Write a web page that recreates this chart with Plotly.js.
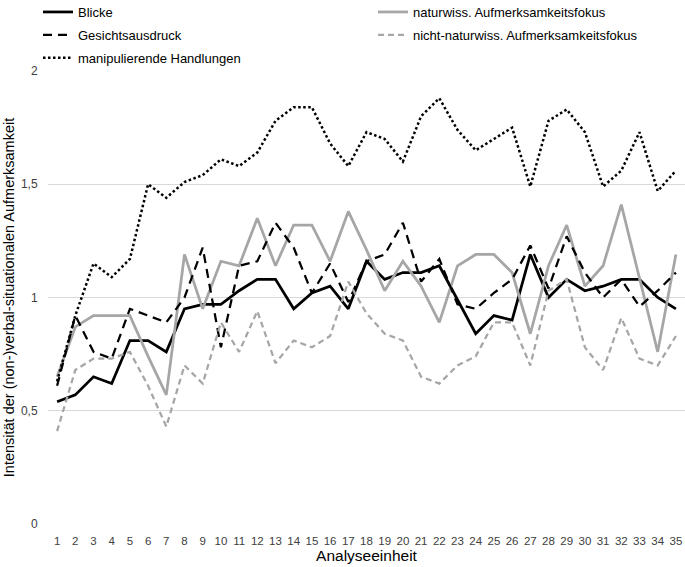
<!DOCTYPE html>
<html>
<head>
<meta charset="utf-8">
<script src="https://cdn.plot.ly/plotly-3.0.1.min.js"></script>
<style>html,body{margin:0;padding:0;background:#fff;}#chart{width:685px;height:567px;}</style>
</head>
<body>
<div id="chart"></div>
<script>
const units = ["1","2","3","4","5","6","7","8","9","10","11","12","13","14","15","16","17","18","19","20","21","22","23","24","25","26","27","28","29","30","31","32","33","34","35"];
const blicke = [0.54,0.57,0.65,0.62,0.81,0.81,0.76,0.95,0.97,0.97,1.03,1.08,1.08,0.95,1.02,1.05,0.95,1.16,1.08,1.11,1.11,1.14,0.99,0.84,0.92,0.90,1.19,1.00,1.08,1.03,1.05,1.08,1.08,1.00,0.95];
const naturwiss = [0.65,0.87,0.92,0.92,0.92,0.74,0.57,1.19,0.95,1.16,1.14,1.35,1.14,1.32,1.32,1.16,1.38,1.21,1.03,1.16,1.05,0.89,1.14,1.19,1.19,1.11,0.84,1.14,1.32,1.05,1.14,1.41,1.08,0.76,1.19];
const gesicht = [0.61,0.92,0.76,0.73,0.95,0.92,0.89,1.00,1.22,0.78,1.14,1.16,1.33,1.22,1.02,1.15,0.98,1.16,1.19,1.33,1.07,1.17,0.97,0.95,1.02,1.08,1.23,1.04,1.27,1.11,1.00,1.08,0.96,1.03,1.11];
const nichtNaturwiss = [0.41,0.68,0.73,0.73,0.76,0.61,0.43,0.70,0.62,0.89,0.76,0.94,0.71,0.81,0.78,0.83,1.07,0.93,0.84,0.81,0.65,0.62,0.70,0.74,0.89,0.89,0.70,1.03,1.08,0.78,0.68,0.91,0.73,0.70,0.83];
const manipulierend = [0.63,0.92,1.15,1.09,1.17,1.50,1.44,1.51,1.54,1.61,1.58,1.64,1.78,1.84,1.84,1.68,1.58,1.73,1.70,1.60,1.80,1.88,1.74,1.65,1.70,1.75,1.49,1.78,1.83,1.73,1.49,1.56,1.73,1.47,1.56];
const seriesNames = ["Blicke","naturwiss. Aufmerksamkeitsfokus","Gesichtsausdruck","nicht-naturwiss. Aufmerksamkeitsfokus","manipulierende Handlungen"];
const yTickVals = [0,0.5,1,1.5,2];
const yTickText = ["0","0,5","1","1,5","2"];

const traces = [
  {x: units, y: blicke, name: seriesNames[0], legend:'legend', legendgroup:'g1', type:'scatter', mode:'lines', line:{color:'#000000', width:2.75}},
  {x: units, y: naturwiss, name: seriesNames[1], legend:'legend2', legendgroup:'g2', type:'scatter', mode:'lines', line:{color:'#a6a6a6', width:2.75}},
  {x: units, y: gesicht, name: seriesNames[2], legend:'legend', legendgroup:'g3', type:'scatter', mode:'lines', line:{color:'#000000', width:2.25, dash:'9px,6px'}},
  {x: units, y: nichtNaturwiss, name: seriesNames[3], legend:'legend2', legendgroup:'g4', type:'scatter', mode:'lines', line:{color:'#a6a6a6', width:2.25, dash:'6px,4px'}},
  {x: units, y: manipulierend, name: seriesNames[4], legend:'legend', legendgroup:'g5', type:'scatter', mode:'lines', line:{color:'#000000', width:2.5, dash:'2.5px,2.5px'}}
];

const legendBase = {
  orientation:'v', xref:'paper', yref:'paper',
  y: 1 + 74/453, xanchor:'left', yanchor:'top',
  font:{size:13, color:'#000000'}, bgcolor:'rgba(0,0,0,0)',
  traceorder:'grouped', tracegroupgap:3
};

const layout = {
  width: 685, height: 567,
  margin: {l:48, r:0, t:71, b:43, autoexpand:false},
  paper_bgcolor:'#ffffff', plot_bgcolor:'#ffffff',
  font: {family:'"Liberation Sans", Arial, sans-serif', color:'#000000', size:13},
  showlegend: true,
  legend: Object.assign({}, legendBase, {x: (38-48)/637}),
  legend2: Object.assign({}, legendBase, {x: (373-48)/637}),
  xaxis: {
    type:'category', range:[-0.5, 34.5], showgrid:false, zeroline:false, showline:false,
    ticks:'outside', ticklen:6, tickcolor:'rgba(0,0,0,0)', tickfont:{size:11.5, color:'#404040'},
    title:{text:'Analyseeinheit', font:{size:15.5, color:'#000000'}, standoff:4},
    automargin:false, fixedrange:true
  },
  yaxis: {
    range:[0,2], tickvals: yTickVals, ticktext: yTickText,
    showgrid:true, gridcolor:'#d9d9d9', gridwidth:1, zeroline:false, showline:false,
    ticks:'outside', ticklen:7, tickcolor:'rgba(0,0,0,0)', tickfont:{size:12, color:'#404040'},
    title:{text:'Intensität der (non-)verbal-situationalen Aufmerksamkeit', font:{size:14.5, color:'#000000'}, standoff:2},
    automargin:false, fixedrange:true
  }
};

Plotly.newPlot('chart', traces, layout, {displayModeBar:false, staticPlot:true});
</script>
</body>
</html>
